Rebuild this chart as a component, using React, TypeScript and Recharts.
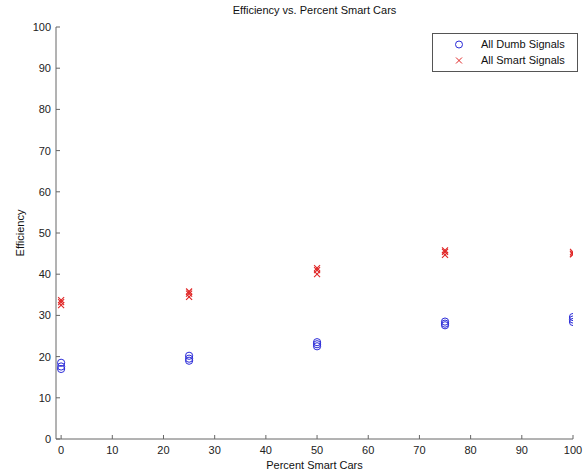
import React from 'react';
import { ScatterChart, Scatter, XAxis, YAxis } from 'recharts';

const xTicks = [0, 10, 20, 30, 40, 50, 60, 70, 80, 90, 100];
const yTicks = [0, 10, 20, 30, 40, 50, 60, 70, 80, 90, 100];

const dumbX = [0, 0, 0, 25, 25, 25, 50, 50, 50, 75, 75, 75, 100, 100, 100];
const dumbY = [18.5, 17.6, 17.0, 20.2, 19.5, 19.0, 23.5, 23.0, 22.5, 28.5, 28.0, 27.6, 29.6, 29.0, 28.4];
const smartX = [0, 0, 0, 25, 25, 25, 50, 50, 50, 75, 75, 75, 100, 100, 100];
const smartY = [33.7, 33.2, 32.5, 35.8, 35.3, 34.5, 41.5, 41.0, 40.0, 45.8, 45.4, 44.7, 45.4, 45.0, 44.8];

const dumbData = dumbX.map((x, i) => ({ x, y: dumbY[i] }));
const smartData = smartX.map((x, i) => ({ x, y: smartY[i] }));

const FONT = '"Liberation Sans", Arial, sans-serif';
const BLUE = '#2a2ad8';
const RED = '#e02626';
const AXIS = '#666';
const MX = 7;
const MY = 5;

const XTick = (props: any) => {
  const { x, y, payload } = props;
  return (
    <g>
      <line x1={x} x2={x} y1={y - MX} y2={y - MX - 4} stroke={AXIS} />
      <text x={x} y={y} dy="0.71em" textAnchor="middle" fontSize={11} fontFamily={FONT} fill="#222">
        {payload.value}
      </text>
    </g>
  );
};

const YTick = (props: any) => {
  const { x, y, payload } = props;
  return (
    <g>
      <line x1={x + MY} x2={x + MY + 4} y1={y} y2={y} stroke={AXIS} />
      <text x={x} y={y} dy="0.355em" textAnchor="end" fontSize={11} fontFamily={FONT} fill="#222">
        {payload.value}
      </text>
    </g>
  );
};

const Circle = (props: any) => {
  const { cx, cy } = props;
  return <circle cx={cx} cy={cy} r={3.6} fill="none" stroke={BLUE} strokeWidth={1} />;
};

const Cross = (props: any) => {
  const { cx, cy } = props;
  const s = 3;
  return (
    <g stroke={RED} strokeWidth={1.1}>
      <line x1={cx - s} y1={cy - s} x2={cx + s} y2={cy + s} />
      <line x1={cx - s} y1={cy + s} x2={cx + s} y2={cy - s} />
    </g>
  );
};

const LegendBox = () => (
  <div
    style={{
      position: 'absolute',
      left: 432,
      top: 33,
      width: 146,
      height: 39,
      border: '1px solid #555',
      background: '#fff',
      fontFamily: FONT,
      fontSize: 11,
      color: '#111',
      boxSizing: 'border-box',
    }}
  >
    <svg width={30} height={37} style={{ position: 'absolute', left: 14, top: 0 }}>
      <circle cx={12} cy={10.5} r={3.5} fill="none" stroke={BLUE} />
      <g stroke={RED} strokeWidth={1}>
        <line x1={9} y1={23.5} x2={15} y2={29.5} />
        <line x1={9} y1={29.5} x2={15} y2={23.5} />
      </g>
    </svg>
    <div style={{ position: 'absolute', left: 48, top: 4, lineHeight: '13px' }}>All Dumb Signals</div>
    <div style={{ position: 'absolute', left: 48, top: 20, lineHeight: '13px' }}>All Smart Signals</div>
  </div>
);

export default function App() {
  return (
    <div style={{ position: 'absolute', left: 0, top: 0, width: 585, height: 474, background: '#fff' }}>
      <ScatterChart width={585} height={474} margin={{ top: 27, right: 12, bottom: 0, left: 16 }}>
        <XAxis
          type="number"
          dataKey="x"
          domain={[-1, 100]}
          ticks={xTicks}
          allowDataOverflow
          height={35}
          tickSize={0}
          tickMargin={MX}
          tick={<XTick />}
          axisLine={{ stroke: AXIS }}
          interval={0}
        />
        <YAxis
          type="number"
          dataKey="y"
          domain={[0, 100]}
          ticks={yTicks}
          width={40}
          tickSize={0}
          tickMargin={MY}
          tick={<YTick />}
          axisLine={{ stroke: AXIS }}
          interval={0}
        />
        <Scatter name="All Dumb Signals" data={dumbData} shape={<Circle />} isAnimationActive={false} />
        <Scatter name="All Smart Signals" data={smartData} shape={<Cross />} isAnimationActive={false} />
      </ScatterChart>
      <LegendBox />
      <div
        style={{
          position: 'absolute',
          left: 56,
          width: 517,
          top: 4,
          textAlign: 'center',
          fontFamily: FONT,
          fontSize: 11,
          color: '#111',
        }}
      >
        Efficiency vs. Percent Smart Cars
      </div>
      <div
        style={{
          position: 'absolute',
          left: 56,
          width: 517,
          top: 459,
          textAlign: 'center',
          fontFamily: FONT,
          fontSize: 11,
          color: '#111',
        }}
      >
        Percent Smart Cars
      </div>
      <div
        style={{
          position: 'absolute',
          left: 20,
          top: 233,
          width: 0,
          height: 0,
          fontFamily: FONT,
          fontSize: 11,
          color: '#111',
        }}
      >
        <div
          style={{
            position: 'absolute',
            left: 0,
            top: 0,
            transform: 'translate(-50%, -50%) rotate(-90deg)',
            whiteSpace: 'nowrap',
          }}
        >
          Efficiency
        </div>
      </div>
    </div>
  );
}
